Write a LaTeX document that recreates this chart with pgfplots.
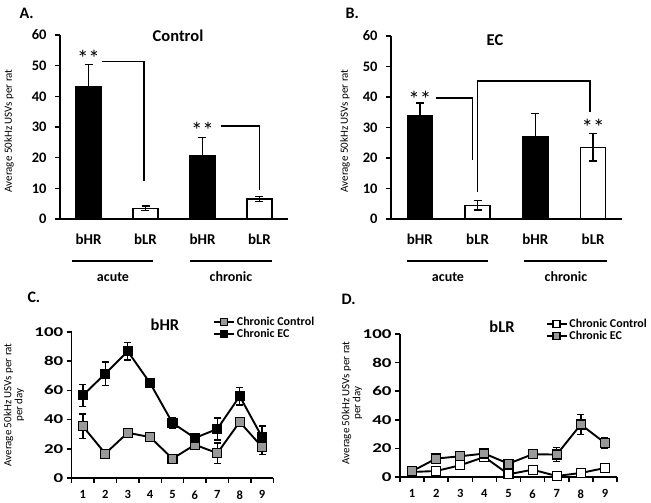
\documentclass[border=0pt]{standalone}
\usepackage{pgfplots}
\pgfplotsset{compat=1.18}
\usepackage{fontspec}
\setmainfont{Carlito}
\newfontfamily\widefont[FakeStretch=1.4]{Carlito}
\newcommand{\fs}[1]{\fontsize{#1}{#1}\selectfont}
\definecolor{mgray}{gray}{0.6}
\tikzset{stars/.style={font=\fs{23}, anchor=base}}
\begin{document}
\begin{tikzpicture}
\path[use as bounding box] (0pt,0pt) rectangle (651pt,503pt);
\pgfplotsset{
  base/.style={scale only axis, anchor=south west, axis lines=left,
    axis line style={-, line width=1.5pt},
    tick style={line width=1.5pt, black}, tick align=outside,
    major tick length=5pt, minor tick length=5pt, enlargelimits=false,
    /pgf/number format/assume math mode=true,
    clip=false},
  barax/.style={base, xmin=-0.5, xmax=3.5, ymin=0, ymax=60,
    ytick={0,10,...,60}, xtick={0,1,2,3}, xticklabels={bHR,bLR,bHR,bLR},
    y tick label style={font=\bfseries\fs{14.5}, xshift=-5pt},
    x tick style={draw=none},
    x tick label style={font=\bfseries\fs{15}, yshift=-6pt}},
  lineax/.style={base, xmin=0.5, xmax=9.5, ymin=0, ymax=100,
    ytick={0,20,...,100}, xtick={0.5,1.5,...,9.5}, xticklabels={},
    y tick label style={font=\widefont\bfseries\fs{13.5}},
    extra x ticks={1,...,9}, extra x tick labels={1,2,3,4,5,6,7,8,9},
    extra x tick style={major tick length=0pt, tick label style={font=\bfseries\fs{12.5}, yshift=-9pt}},
    legend style={draw=none, fill=none, font=\bfseries\fs{12}, anchor=north west,
      inner sep=0pt, row sep=-2pt, legend cell align=left},
    legend image code/.code={\draw[mark repeat=2,mark phase=2,##1, mark size=3.5pt]
      plot coordinates {(0pt,0pt)(10pt,0pt)(20pt,0pt)};}},
  barw/.style={ybar, bar width=25pt, bar shift=0pt, draw=black, line width=1.3pt,
    error bars/y dir=both, error bars/y explicit,
    error bars/error bar style={line width=1.4pt, black},
    error bars/error mark options={rotate=90, mark size=4pt, line width=1.4pt, black}},
  lin/.style={line width=1.9pt, black, mark=square*, mark size=4.5pt,
    mark options={line width=1.1pt, fill=#1},
    error bars/y dir=both, error bars/y explicit,
    error bars/error bar style={line width=1.4pt, black},
    error bars/error mark options={rotate=90, mark size=3.5pt, line width=1.4pt, black}},
}

% ---------------- Panel A ----------------
\begin{axis}[barax, at={(60pt,284pt)}, width=228pt, height=184pt]
\addplot[barw, fill=black] table[x=x, y=y, y error=e] {
x y e
0 43.0 7.3
2 20.5 6.0
};
\addplot[barw, fill=white] table[x=x, y=y, y error=e] {
x y e
1 3.5 0.8
3 6.5 0.8
};
\draw[line width=1.6pt] (axis cs:0.23,51.3) -- (axis cs:0.97,51.3) -- (axis cs:0.97,12.4);
\draw[line width=1.6pt] (axis cs:2.32,30.4) -- (axis cs:3.0,30.4) -- (axis cs:3.0,9.5);
\node[stars] at (axis cs:0,49.6) {**};
\node[stars] at (axis cs:2,26.1) {**};
\end{axis}

% ---------------- Panel B ----------------
\begin{axis}[barax, at={(391pt,284pt)}, width=231pt, height=183pt]
\addplot[barw, fill=black] table[x=x, y=y, y error=e] {
x y e
0 34.0 4.0
2 27.0 7.5
};
\addplot[barw, fill=white] table[x=x, y=y, y error=e] {
x y e
1 4.5 1.5
3 23.5 4.5
};
\draw[line width=1.6pt] (axis cs:0.28,39.7) -- (axis cs:0.91,39.7) -- (axis cs:0.91,19.3);
\draw[line width=1.6pt] (axis cs:1.0,9.0) -- (axis cs:1.0,45.2) -- (axis cs:2.95,45.2) -- (axis cs:2.95,35.0);
\node[stars] at (axis cs:0,36.4) {**};
\node[stars] at (axis cs:3,27.3) {**};
\end{axis}

% ---------------- Panel C ----------------
\begin{axis}[lineax, at={(71.7pt,25pt)}, width=201.6pt, height=146pt,
  legend style={at={(0.70,1.12)}}]
\addplot[lin=mgray] table[x=x, y=y, y error=e] {
x y e
1 35.4 8.5
2 16.7 3.0
3 31.0 1.5
4 28.0 1.5
5 13.2 1.5
6 22.8 2.0
7 17.0 7.0
8 38.4 3.0
9 21.2 5.0
};
\addlegendentry{Chronic Control}
\addplot[lin=black] table[x=x, y=y, y error=e] {
x y e
1 56.6 7.6
2 71.5 8.0
3 86.8 6.0
4 65.0 2.0
5 37.7 3.5
6 27.4 2.0
7 33.6 7.5
8 56.0 6.0
9 28.0 7.5
};
\addlegendentry{Chronic EC}
\end{axis}

% ---------------- Panel D ----------------
\begin{axis}[lineax, at={(400pt,26pt)}, width=217pt, height=143pt,
  legend style={at={(0.67,1.12)}}]
\addplot[lin=white] table[x=x, y=y, y error=e] {
x y e
1 3.5 1.0
2 4.2 1.0
3 8.2 1.0
4 14.0 1.5
5 1.9 1.0
6 5.1 1.0
7 0.7 1.0
8 2.8 1.0
9 6.3 1.0
};
\addlegendentry{Chronic Control}
\addplot[lin=mgray] table[x=x, y=y, y error=e] {
x y e
1 4.0 1.0
2 12.9 1.5
3 14.5 1.5
4 16.4 1.5
5 9.3 1.5
6 15.9 1.5
7 15.7 5.0
8 36.7 6.8
9 23.8 4.0
};
\addlegendentry{Chronic EC}
\end{axis}

% ---------------- annotations ----------------
\node[font=\bfseries\fs{16}, anchor=west] at (16pt,490pt) {A.};
\node[font=\bfseries\fs{16}, anchor=west] at (342pt,490pt) {B.};
\node[font=\bfseries\fs{16}, anchor=west] at (24pt,206pt) {C.};
\node[font=\bfseries\fs{16}, anchor=west] at (338pt,204pt) {D.};

\node[font=\bfseries\fs{16.5}] at (178pt,467pt) {Control};
\node[font=\bfseries\fs{16.5}] at (495pt,463pt) {EC};
\node[font=\bfseries\fs{16.5}] at (165pt,178pt) {bHR};
\node[font=\bfseries\fs{16.5}] at (502pt,176pt) {bLR};

\node[font=\fs{11}, rotate=90] at (9pt,372pt) {Average 50kHz USVs per rat};
\node[font=\fs{11}, rotate=90] at (345pt,372pt) {Average 50kHz USVs per rat};
\node[font=\fs{11}, rotate=90, align=center] at (14pt,98pt) {Average 50kHz USVs per rat\\per day};
\node[font=\fs{11}, rotate=90, align=center] at (352pt,100pt) {Average 50kHz USVs per rat\\per day};

\draw[line width=1.4pt] (72pt,242pt) -- (153pt,242pt);
\draw[line width=1.4pt] (190pt,242pt) -- (272pt,242pt);
\draw[line width=1.4pt] (407pt,242pt) -- (488pt,242pt);
\draw[line width=1.4pt] (524pt,242pt) -- (607pt,242pt);
\node[font=\bfseries\fs{14}] at (113pt,226pt) {acute};
\node[font=\bfseries\fs{14}] at (231pt,226pt) {chronic};
\node[font=\bfseries\fs{14}] at (448pt,226pt) {acute};
\node[font=\bfseries\fs{14}] at (566pt,226pt) {chronic};
\end{tikzpicture}
\end{document}
